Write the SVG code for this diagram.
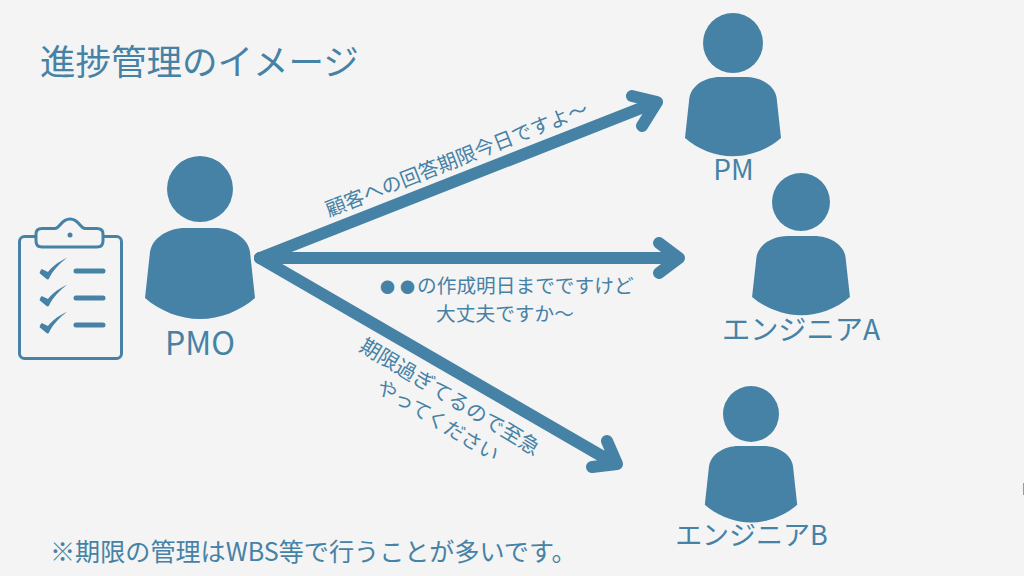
<svg xmlns="http://www.w3.org/2000/svg" width="1024" height="576" viewBox="0 0 1024 576">
<style>
text{font-family:"Noto Sans CJK JP","Noto Sans",sans-serif;fill:#4682a5;font-weight:400}
.fill{fill:#4682a5}
.ar{fill:none;stroke:#4682a5;stroke-width:12;stroke-linecap:round;stroke-linejoin:round}
.clip{fill:#f4f4f4;stroke:#4682a5;stroke-width:3;stroke-linejoin:round}
.bar{stroke:#4682a5;stroke-width:5;stroke-linecap:round}
</style>
<defs>
<path id="body" class="fill" d="M-55 70L-50 24C-48 10-32 0-15 0L15 0C32 0 48 10 50 24L55 70C40 83 20 91 0 91C-20 91-40 83-55 70Z"/>
<path id="check" class="fill" d="M-7 -4L0 0C3-5 9-12 21-19C12-10 6-3 1 9Q0 11-2 9L-9 2Q-10 0-7 -4Z"/>
</defs>
<rect width="1024" height="576" fill="#f4f4f4"/>
<rect x="1023" y="483" width="1" height="12" fill="#4682a5" opacity=".7"/>
<text x="40" y="75" font-size="35.500">進捗管理のイメージ</text>
<g id="connectors">
<path class="ar" d="M260 258L654 103M632 96L657 102L642 126"/>
<path class="ar" d="M260 258L676 258M659 243L679 258L659 273"/>
<path class="ar" d="M260 258L612 462M607 441L617 464L592 467"/>
</g>
<g id="clipboard">
<rect class="clip" x="19.500" y="236.500" width="102" height="122" rx="5"/>
<path class="clip" d="M42 228.500L55 228.500C60 228.500 61 219 70 219C79 219 80 228.500 85 228.500L97 228.500Q103 228.500 103 234L103 241Q103 247 97 247L42 247Q36 247 36 241L36 234Q36 228.500 42 228.500Z"/>
<circle class="fill" cx="70" cy="235" r="2.500"/>
<use href="#check" transform="translate(48,272) scale(.9,.75)"/>
<use href="#check" transform="translate(48,299) scale(.9,.75)"/>
<use href="#check" transform="translate(48,326) scale(.9,.75)"/>
<path class="bar" d="M76 271H103M76 298H103M76 325H103"/>
</g>
<g id="pmo">
<circle class="fill" cx="200" cy="189" r="33"/>
<use href="#body" transform="translate(200,228)"/>
<text x="200" y="355" font-size="32" text-anchor="middle">PMO</text>
</g>
<g id="pm">
<circle class="fill" cx="733" cy="43" r="30"/>
<use href="#body" transform="translate(733,77) scale(.873,.87)"/>
<text x="733.500" y="180" font-size="28" text-anchor="middle">PM</text>
</g>
<g id="engineer-a">
<circle class="fill" cx="801" cy="202" r="29"/>
<use href="#body" transform="translate(801,236) scale(.89,.87)"/>
<text x="801" y="340" font-size="28.200" text-anchor="middle">エンジニアA</text>
</g>
<g id="engineer-b">
<circle class="fill" cx="751" cy="414" r="28"/>
<use href="#body" transform="translate(751,446) scale(.84,.84)"/>
<text x="751.500" y="545" font-size="27" text-anchor="middle">エンジニアB</text>
</g>
<text transform="translate(329,217) rotate(-21.500)" font-size="20">顧客への回答期限今日ですよ〜</text>
<text x="380" y="293" font-size="19.700"><tspan font-size="15" letter-spacing="5">●●</tspan><tspan dx="-3">の作成明日までですけど</tspan></text>
<text x="505" y="321" font-size="19.700" text-anchor="middle">大丈夫ですか〜</text>
<text transform="translate(358,350) rotate(31)" font-size="20.600">期限過ぎてるので至急</text>
<text transform="translate(375,391) rotate(31)" font-size="20">やってください</text>
<text x="50" y="561" font-size="25.100">※期限の管理はWBS等で行うことが多いです。</text>
</svg>
